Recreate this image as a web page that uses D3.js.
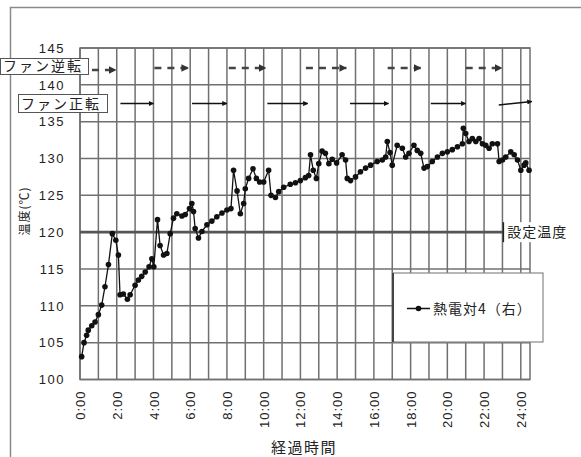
<!DOCTYPE html>
<html>
<head>
<meta charset="utf-8">
<script src="https://cdn.jsdelivr.net/npm/d3@7"></script>
<style>
  html, body { margin: 0; padding: 0; background: #fff; }
  svg { display: block; }
  text { font-family: "Noto Sans CJK JP", "Noto Sans", sans-serif; fill: #222; }
</style>
</head>
<body>
<svg id="chart" width="581" height="457"></svg>
<script>
// 熱電対4（右） readings: elapsed hours and temperature (℃)
const hours = [
  0.09, 0.22, 0.36, 0.45, 0.64, 0.82, 1.00, 1.18, 1.36, 1.55, 1.76, 1.95, 2.09, 2.18, 2.36, 2.58, 2.73,
  3.00, 3.18, 3.36, 3.55, 3.76, 3.91, 4.02, 4.22, 4.36, 4.55, 4.73, 4.91, 5.09, 5.27, 5.55, 5.73, 5.96,
  6.09, 6.18, 6.27, 6.45, 6.64, 6.91, 7.18, 7.45, 7.73, 8.00, 8.22, 8.36, 8.55, 8.73, 8.91, 9.00, 9.18,
  9.42, 9.60, 9.78, 10.00, 10.27, 10.40, 10.64, 10.82, 11.09, 11.45, 11.73, 12.00, 12.27, 12.45, 12.55,
  12.70, 12.87, 13.00, 13.18, 13.36, 13.55, 13.73, 13.97, 14.27, 14.46, 14.55, 14.73, 15.00, 15.27,
  15.55, 15.82, 16.18, 16.46, 16.64, 16.73, 16.88, 17.00, 17.27, 17.55, 17.73, 17.91, 18.18, 18.36,
  18.55, 18.73, 18.91, 19.18, 19.46, 19.73, 20.00, 20.27, 20.55, 20.82, 20.87, 21.00, 21.18, 21.36,
  21.55, 21.73, 21.91, 22.09, 22.27, 22.45, 22.73, 22.82, 23.00, 23.18, 23.45, 23.64, 23.82, 24.00,
  24.18, 24.27, 24.45
];
const temps = [
  103.1, 105.0, 106.0, 106.7, 107.3, 107.8, 108.8, 110.1, 112.6, 115.6, 119.8, 118.9, 116.9, 111.5, 111.6, 110.9, 111.5,
  112.8, 113.5, 114.0, 114.6, 115.3, 116.4, 115.3, 121.7, 118.2, 116.9, 117.1, 119.8, 121.9, 122.5, 122.2, 122.4, 123.2,
  123.9, 122.8, 120.5, 119.2, 120.1, 121.0, 121.5, 122.1, 122.6, 123.0, 123.2, 128.4, 125.6, 122.5, 123.9, 125.9, 127.3,
  128.6, 127.3, 126.8, 126.8, 128.4, 125.0, 124.7, 125.5, 126.1, 126.5, 126.7, 127.0, 127.4, 127.7, 130.5,
  128.4, 127.3, 129.3, 131.0, 130.7, 129.3, 129.9, 129.4, 130.5, 129.8, 127.3, 127.0, 127.5, 128.2,
  128.7, 129.1, 129.6, 129.8, 130.2, 132.3, 130.8, 129.1, 131.8, 131.4, 130.2, 130.7, 131.8, 131.1,
  130.7, 128.7, 128.9, 129.6, 130.2, 130.7, 130.9, 131.2, 131.6, 132.0, 134.1, 133.4, 132.3, 132.7,
  132.3, 132.7, 132.0, 131.8, 131.4, 132.0, 132.0, 129.6, 129.8, 130.2, 130.9, 130.5, 129.8, 128.4,
  129.1, 129.4, 128.4
];

// Set-point temperature (設定温度)
const setPoint = 120;

// Axis ticks
const yTicks = [100, 105, 110, 115, 120, 125, 130, 135, 140, 145];
const xTickHours = [0, 2, 4, 6, 8, 10, 12, 14, 16, 18, 20, 22, 24];
const xTickLabels = ["0:00", "2:00", "4:00", "6:00", "8:00", "10:00", "12:00", "14:00", "16:00", "18:00", "20:00", "22:00", "24:00"];

// Fan operation periods (start hour, end hour)
const reverseStart = [0.65, 4.05, 8.1, 12.3, 16.75, 21.0];
const reverseEnd   = [1.95, 5.9, 10.1, 14.5, 18.55, 22.95];
const forwardStart = [2.2, 6.1, 10.2, 14.7, 19.1, 22.8];
const forwardEnd   = [4.0, 8.0, 12.4, 16.8, 21.0, 24.6];

const svg = d3.select("#chart");

const plot = { left: 80, right: 530, top: 48, bottom: 379.5 };
const x = d3.scaleLinear().domain([0, 24.5]).range([plot.left, plot.right]);
const y = d3.scaleLinear().domain([100, 145]).range([plot.bottom, plot.top]);

// chart frame
svg.append("rect")
  .attr("x", 10.5).attr("y", 7.5).attr("width", 600).attr("height", 470)
  .attr("fill", "#fff").attr("stroke", "#8a8a8a").attr("stroke-width", 1.5);

// plot area
svg.append("rect")
  .attr("x", plot.left).attr("y", plot.top)
  .attr("width", plot.right - plot.left).attr("height", plot.bottom - plot.top)
  .attr("fill", "#fff");

const grid = svg.append("g").attr("stroke", "#707070").attr("stroke-width", 1.5);
// vertical gridlines every hour
grid.selectAll("line.v").data(d3.range(0, 25)).join("line")
  .attr("class", "v")
  .attr("x1", d => x(d)).attr("x2", d => x(d))
  .attr("y1", plot.top).attr("y2", plot.bottom);
// horizontal gridlines
grid.selectAll("line.h").data(yTicks).join("line")
  .attr("class", "h")
  .attr("x1", plot.left).attr("x2", plot.right)
  .attr("y1", d => y(d)).attr("y2", d => y(d));
// plot border
svg.append("rect")
  .attr("x", plot.left).attr("y", plot.top)
  .attr("width", plot.right - plot.left).attr("height", plot.bottom - plot.top)
  .attr("fill", "none").attr("stroke", "#707070").attr("stroke-width", 1.5);

// Y axis
const yAxis = d3.axisLeft(y).tickValues(yTicks).tickSize(0).tickPadding(15).tickFormat(d3.format("d"));
const gy = svg.append("g").attr("transform", `translate(${plot.left},0)`).call(yAxis);
gy.select(".domain").remove();
gy.selectAll("text").attr("font-size", 13).attr("fill", "#333")
  .attr("letter-spacing", 1.5)
  .style("font-family", "'Liberation Sans', sans-serif");

// X axis
const xAxis = d3.axisBottom(x).tickValues(xTickHours).tickSize(0).tickPadding(0)
  .tickFormat((d, i) => xTickLabels[i]);
const gx = svg.append("g").attr("transform", `translate(0,${plot.bottom})`).call(xAxis);
gx.select(".domain").remove();
gx.selectAll("text")
  .attr("font-size", 13).attr("fill", "#333")
  .attr("letter-spacing", 1)
  .style("font-family", "'Liberation Sans', sans-serif")
  .attr("text-anchor", "end")
  .attr("dy", "0.35em")
  .attr("transform", "translate(0,11) rotate(-90)")
  .attr("x", 0).attr("y", 0);

// axis titles
svg.append("text")
  .attr("x", 304).attr("y", 453)
  .attr("text-anchor", "middle").attr("font-size", 15).attr("fill", "#333")
  .attr("letter-spacing", 1.5)
  .text("経過時間");
svg.append("text")
  .attr("transform", "translate(29,211) rotate(-90)")
  .attr("text-anchor", "middle").attr("font-size", 12).attr("fill", "#333")
  .attr("letter-spacing", 1)
  .text("温度(℃)");

// set-point line
svg.append("line")
  .attr("x1", plot.left).attr("x2", x(23.05))
  .attr("y1", y(setPoint)).attr("y2", y(setPoint))
  .attr("stroke", "#555").attr("stroke-width", 2.6);
const spBox = svg.append("g").attr("transform", `translate(${x(23.05)},${y(setPoint)})`);
spBox.append("rect").attr("x", 0).attr("y", -10).attr("width", 70).attr("height", 20).attr("fill", "#fff");
spBox.append("line").attr("x1", 0).attr("x2", 0).attr("y1", -10).attr("y2", 10)
  .attr("stroke", "#222").attr("stroke-width", 1.5);
spBox.append("text").attr("x", 4).attr("y", 5).attr("font-size", 14).attr("fill", "#222")
  .attr("letter-spacing", 1).text("設定温度");

// arrow heads
const defs = svg.append("defs");
function arrowMarker(id, color) {
  defs.append("marker").attr("id", id)
    .attr("viewBox", "0 0 10 10").attr("refX", 9).attr("refY", 5)
    .attr("markerWidth", 3.2).attr("markerHeight", 3.2).attr("orient", "auto")
    .append("path").attr("d", "M0,0L10,5L0,10Z").attr("fill", color);
}
arrowMarker("headSolid", "#111");
arrowMarker("headDash", "#333");

// fan reverse (dashed) and forward (solid) periods
const revRowY = 68, fwdRowY = 103.5;
svg.append("g").selectAll("line").data(reverseStart).join("line")
  .attr("x1", d => x(d)).attr("x2", (d, i) => x(reverseEnd[i]))
  .attr("y1", (d, i) => i === 0 ? revRowY + 2 : revRowY)
  .attr("y2", (d, i) => i === 0 ? revRowY + 2 : revRowY)
  .attr("stroke", "#444").attr("stroke-width", 2.4)
  .attr("stroke-dasharray", "7,6")
  .attr("marker-end", "url(#headDash)");
svg.append("g").selectAll("line").data(forwardStart).join("line")
  .attr("x1", d => x(d)).attr("x2", (d, i) => x(forwardEnd[i]))
  .attr("y1", (d, i) => i === forwardStart.length - 1 ? fwdRowY + 1.5 : fwdRowY)
  .attr("y2", (d, i) => i === forwardStart.length - 1 ? fwdRowY - 2 : fwdRowY)
  .attr("stroke", "#111").attr("stroke-width", 1.6)
  .attr("marker-end", "url(#headSolid)");

// labels for fan direction
function boxLabel(bx, by, w, h, label) {
  const g = svg.append("g");
  g.append("rect").attr("x", bx + 0.5).attr("y", by + 0.5).attr("width", w).attr("height", h)
    .attr("fill", "#fff").attr("stroke", "#555").attr("stroke-width", 1);
  g.append("text").attr("x", bx + 3).attr("y", by + h - 3.5).attr("font-size", 14).attr("fill", "#222")
    .attr("letter-spacing", 2).text(label);
}
boxLabel(0, 58, 88, 16, "ファン逆転");
boxLabel(18, 94, 89, 18, "ファン正転");

// temperature series
const pts = hours.map((h, i) => [h, temps[i]]);
svg.append("path").datum(pts)
  .attr("fill", "none").attr("stroke", "#111").attr("stroke-width", 1.3)
  .attr("d", d3.line().x(d => x(d[0])).y(d => y(d[1])));
svg.append("g").selectAll("circle").data(pts).join("circle")
  .attr("cx", d => x(d[0])).attr("cy", d => y(d[1])).attr("r", 2.8)
  .attr("fill", "#111");

// legend
const lg = svg.append("g").attr("transform", "translate(393,273)");
lg.append("rect").attr("width", 150).attr("height", 69).attr("fill", "#fff")
  .attr("stroke", "#888").attr("stroke-width", 1.2);
lg.append("line").attr("x1", 0).attr("x2", 0).attr("y1", 0).attr("y2", 69)
  .attr("stroke", "#444").attr("stroke-width", 2);
lg.append("line").attr("x1", 14).attr("x2", 37).attr("y1", 35.5).attr("y2", 35.5)
  .attr("stroke", "#111").attr("stroke-width", 1.5);
lg.append("circle").attr("cx", 25.5).attr("cy", 35.5).attr("r", 2.8).attr("fill", "#111");
lg.append("text").attr("x", 40).attr("y", 40.5).attr("font-size", 14).attr("fill", "#444")
  .attr("letter-spacing", 1)
  .text("熱電対4（右）");
</script>
</body>
</html>
